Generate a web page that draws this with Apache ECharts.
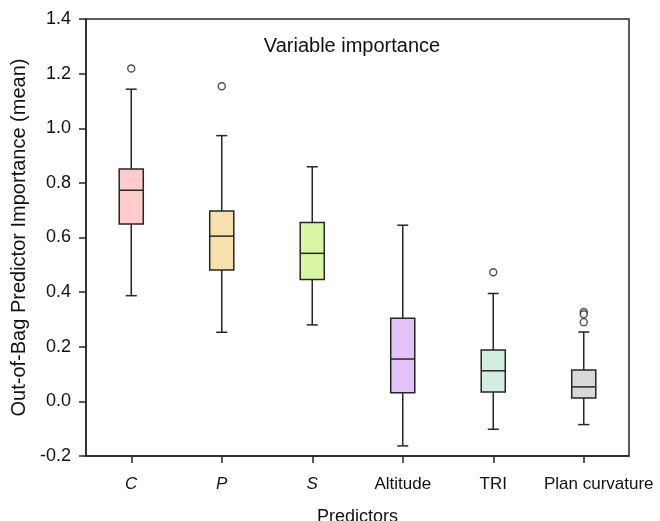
<!DOCTYPE html>
<html>
<head>
<meta charset="utf-8">
<script src="https://cdn.jsdelivr.net/npm/echarts@6/dist/echarts.min.js"></script>
<style>
  html, body { margin: 0; padding: 0; background: #fff; }
  #chart { width: 660px; height: 521px; }
</style>
</head>
<body>
<div id="chart"></div>
<script>
// Predictor names along the x axis
const categories = ['C', 'P', 'S', 'Altitude', 'TRI', 'Plan curvature'];
// Box statistics per predictor: [lower whisker, Q1, median, Q3, upper whisker]
const boxStats = [
  [0.387, 0.649, 0.773, 0.851, 1.143],
  [0.253, 0.481, 0.605, 0.697, 0.973],
  [0.280, 0.446, 0.542, 0.655, 0.859],
  [-0.163, 0.032, 0.155, 0.304, 0.645],
  [-0.102, 0.034, 0.112, 0.188, 0.395],
  [-0.085, 0.012, 0.053, 0.115, 0.254]
];
// Outliers: [category index, value]
const outliers = [
  [0, 1.219],
  [1, 1.154],
  [4, 0.473],
  [5, 0.327],
  [5, 0.319],
  [5, 0.290]
];
const boxColors = ['#FFCCCC', '#F6E0AE', '#D9F7A2', '#E2C4FA', '#D3EEDF', '#D9D9D9'];
const yTicks = { min: -0.2, max: 1.4, step: 0.2 };

const chart = echarts.init(document.getElementById('chart'));
const FONT = '"Liberation Sans", Arial, sans-serif';
const INK = '#262626';

chart.setOption({
  animation: false,
  title: {
    text: 'Variable importance',
    left: 347,
    top: 31,
    textAlign: 'center',
    textStyle: { fontFamily: FONT, fontSize: 20, fontWeight: 'normal', color: '#111' }
  },
  grid: {
    left: 86, top: 19, right: 31, bottom: 65,
    containLabel: false,
    outerBoundsMode: 'none',
    show: true, borderColor: INK, borderWidth: 1.5, backgroundColor: 'transparent'
  },
  xAxis: {
    type: 'category',
    data: categories,
    boundaryGap: true,
    name: 'Predictors',
    nameLocation: 'middle',
    nameGap: 52,
    nameTextStyle: { fontFamily: FONT, fontSize: 18, color: '#111' },
    axisLine: { onZero: false, lineStyle: { color: INK, width: 1.5 } },
    axisTick: { show: true, interval: 0, alignWithLabel: true, length: 7, lineStyle: { color: INK, width: 1.5 } },
    axisLabel: {
      interval: 0,
      fontFamily: FONT, fontSize: 17, color: '#111', margin: 20,
      formatter: function (v) {
        if (v.length === 1) return '{it|' + v + '}';
        if (v.indexOf(' ') > 0) return '{wide|' + v + '}';
        return v;
      },
      rich: {
        it: { fontStyle: 'italic', fontFamily: FONT, fontSize: 17, color: '#111' },
        wide: { fontFamily: FONT, fontSize: 17, color: '#111', padding: [0, 0, 0, 30] }
      }
    },
    splitLine: { show: false }
  },
  yAxis: {
    type: 'value',
    min: yTicks.min, max: yTicks.max, interval: yTicks.step,
    name: 'Out-of-Bag Predictor Importance (mean)',
    nameLocation: 'middle',
    nameGap: 53,
    nameTextStyle: { fontFamily: FONT, fontSize: 20, color: '#111' },
    axisLine: { show: true, onZero: false, lineStyle: { color: INK, width: 1.5 } },
    axisTick: { show: true, length: 7, lineStyle: { color: INK, width: 1.5 } },
    axisLabel: {
      fontFamily: FONT, fontSize: 18, color: '#111', margin: 15,
      formatter: function (v) { return v.toFixed(1); }
    },
    splitLine: { show: false }
  },
  series: [
    {
      type: 'custom',
      data: boxStats.map(function (s, i) { return [i].concat(s); }),
      encode: { x: 0, y: [1, 2, 3, 4, 5] },
      renderItem: function (params, api) {
        const idx = api.value(0);
        const lo = api.coord([idx, api.value(1)]);
        const q1 = api.coord([idx, api.value(2)]);
        const med = api.coord([idx, api.value(3)]);
        const q3 = api.coord([idx, api.value(4)]);
        const hi = api.coord([idx, api.value(5)]);
        const bandW = api.size([1, 0])[0];
        const halfBox = bandW * 0.133;
        const halfCap = halfBox * 0.46;
        const cx = lo[0];
        const stroke = { stroke: INK, lineWidth: 1.5 };
        return {
          type: 'group',
          children: [
            { type: 'line', shape: { x1: cx, y1: q3[1], x2: cx, y2: hi[1] }, style: stroke },
            { type: 'line', shape: { x1: cx, y1: q1[1], x2: cx, y2: lo[1] }, style: stroke },
            { type: 'line', shape: { x1: cx - halfCap, y1: hi[1], x2: cx + halfCap, y2: hi[1] }, style: stroke },
            { type: 'line', shape: { x1: cx - halfCap, y1: lo[1], x2: cx + halfCap, y2: lo[1] }, style: stroke },
            {
              type: 'rect',
              shape: { x: cx - halfBox, y: q3[1], width: halfBox * 2, height: q1[1] - q3[1] },
              style: { fill: boxColors[idx], stroke: INK, lineWidth: 1.5 }
            },
            { type: 'line', shape: { x1: cx - halfBox, y1: med[1], x2: cx + halfBox, y2: med[1] }, style: stroke }
          ]
        };
      }
    },
    {
      type: 'scatter',
      data: outliers,
      symbol: 'circle',
      symbolSize: 7,
      itemStyle: { color: '#fff', borderColor: INK, borderWidth: 1.4 }
    }
  ]
});
</script>
</body>
</html>
